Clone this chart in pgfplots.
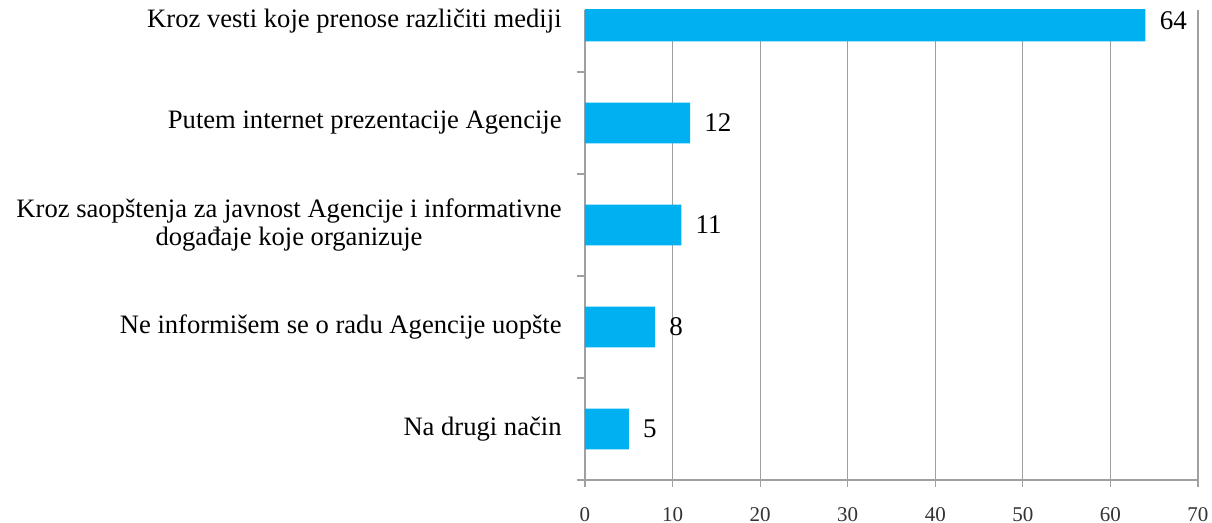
\documentclass[border=0pt]{standalone}
\usepackage{fontspec}
\setmainfont{Liberation Serif}
\usepackage{pgfplots}
\pgfplotsset{compat=1.18}
\usetikzlibrary{calc}
\definecolor{barblue}{HTML}{00B0F0}
\definecolor{gridgray}{RGB}{160,160,160}
\begin{document}
\begin{tikzpicture}
\begin{axis}[
  scale only axis,
  width=306.5pt, height=235pt,
  xbar, bar width=0.4,
  xmin=0, xmax=70, ymin=-0.5, ymax=4.108,
  axis lines*=left,
  axis line style={gridgray, line width=0.6pt},
  /pgf/number format/assume math mode=true,
  xtick={0,10,...,70},
  xmajorgrids,
  major grid style={gridgray, line width=0.6pt},
  tick align=outside,
  major tick length=3.5pt,
  minor tick length=4pt,
  tick style={gridgray, line width=0.6pt},
  ytick={0,1,2,3,4},
  major y tick style={draw=none},
  minor ytick={-0.5,0.5,1.5,2.5,3.5},
  yticklabels={Na drugi način, Ne informišem se o radu Agencije uopšte, {Kroz saopštenja za javnost Agencije i informativne\\događaje koje organizuje}, Putem internet prezentacije Agencije, Kroz vesti koje prenose različiti mediji},
  yticklabel style={font=\fontsize{13.3}{14}\selectfont, align=center, inner sep=0pt, xshift=-8pt},
  xticklabel style={font=\fontsize{10.5}{12}\selectfont, inner sep=0pt, anchor=north, yshift=-10pt, text=black!80},
  nodes near coords,
  nodes near coords style={font=\fontsize{13.5}{15}\selectfont, inner sep=0pt, anchor=west, xshift=7pt, text=black},
]
\addplot[fill=barblue, draw=none] coordinates {(5,0) (8,1) (11,2) (12,3) (64,4)};
\coordinate (O) at (axis cs:0,-0.5);
\end{axis}
\pgfresetboundingbox
\path[use as bounding box] ($(O)+(-292.5pt,-21.5pt)$) rectangle ++(606pt,261.5pt);
\end{tikzpicture}
\end{document}
